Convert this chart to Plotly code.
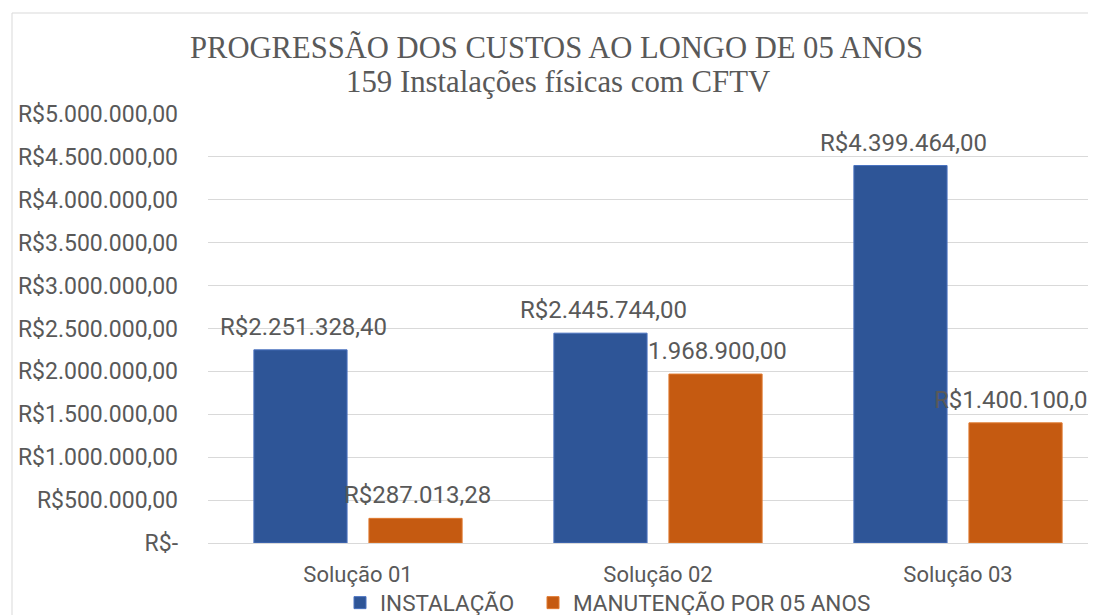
import plotly.graph_objects as go

categorias = ["Solução 01", "Solução 02", "Solução 03"]
instalacao = [2251328.40, 2445744.00, 4399464.00]
manutencao = [287013.28, 1968900.00, 1400100.00]
prefixo_manut = ["R$", "", "R$"]
prefixo_inst = ["R$", "R$", "R$"]
tick_vals = [0, 500000, 1000000, 1500000, 2000000, 2500000, 3000000, 3500000, 4000000, 4500000, 5000000]
tick_text = ["R$-", "R$500.000,00", "R$1.000.000,00", "R$1.500.000,00", "R$2.000.000,00",
             "R$2.500.000,00", "R$3.000.000,00", "R$3.500.000,00", "R$4.000.000,00",
             "R$4.500.000,00", "R$5.000.000,00"]
titulo = "PROGRESSÃO DOS CUSTOS AO LONGO DE 05 ANOS"
subtitulo = "159 Instalações físicas com CFTV"


def brl(v):
    s = f"{v:,.2f}"
    return s.replace(",", "X").replace(".", ",").replace("X", ".")


GRAY = "#595959"
FONT = "Roboto, Liberation Sans, sans-serif"
SERIF = "Liberation Serif, Times New Roman, serif"

# page has an 8px body margin; figure is offset accordingly
OFF = 8
W, H = 1096 - OFF, 650
L, R, T = 208 - OFF, 0, 114 - OFF
PLOT_BOTTOM = 543 - OFF
B = H - PLOT_BOTTOM
pw = W - L - R
ph = H - T - B

fig = go.Figure()
fig.add_trace(go.Bar(name="INSTALAÇÃO", x=categorias, y=instalacao, legend="legend",
                     marker=dict(color="#2E5597", line=dict(color="#4A72C0", width=1))))
fig.add_trace(go.Bar(name="MANUTENÇÃO POR 05 ANOS", x=categorias, y=manutencao, legend="legend2",
                     marker=dict(color="#C55A11", line=dict(color="#E07A30", width=1))))

for i, c in enumerate(categorias):
    fig.add_annotation(x=c, y=instalacao[i], text=prefixo_inst[i] + brl(instalacao[i]),
                       showarrow=False, yanchor="bottom", xshift=-55, yshift=7,
                       font=dict(family=FONT, size=24, color=GRAY))
    fig.add_annotation(x=c, y=manutencao[i], text=prefixo_manut[i] + brl(manutencao[i]),
                       showarrow=False, yanchor="bottom", xshift=59, yshift=7,
                       font=dict(family=FONT, size=24, color=GRAY))

# title lines
fig.add_annotation(xref="paper", yref="paper", x=(556 - OFF - L) / pw, y=1 + (T - (48 - OFF)) / ph,
                   text=titulo, showarrow=False, xanchor="center", yanchor="middle",
                   font=dict(family=SERIF, size=30.6, color=GRAY))
fig.add_annotation(xref="paper", yref="paper", x=(558 - OFF - L) / pw, y=1 + (T - (82 - OFF)) / ph,
                   text=subtitulo, showarrow=False, xanchor="center", yanchor="middle",
                   font=dict(family=SERIF, size=30.8, color=GRAY))

fig.add_shape(type="rect", xref="paper", yref="paper",
              x0=(12 - OFF - L) / pw, x1=1.2, y0=-0.5, y1=1 + (T - (13 - OFF)) / ph,
              line=dict(color="#D9D9D9", width=1), fillcolor="rgba(0,0,0,0)", layer="below")

leg_common = dict(orientation="h", xanchor="left", y=-(603 - 543) / ph, yanchor="middle",
                  font=dict(family=FONT, size=22.5, color=GRAY), itemwidth=30,
                  bgcolor="rgba(0,0,0,0)")

fig.update_layout(
    width=W, height=H,
    margin=dict(l=L, r=R, t=T, b=B),
    paper_bgcolor="white", plot_bgcolor="white",
    barmode="group", bargap=0.233, bargroupgap=0.19,
    legend=dict(x=(340 - OFF - L) / pw, **leg_common),
    legend2=dict(x=(533 - OFF - L) / pw, **leg_common),
    showlegend=True,
)
fig.update_xaxes(range=[-0.5, 2.5 - 12 / 300], showline=True, linecolor="#D9D9D9",
                 ticks="", tickfont=dict(family=FONT, size=22, color=GRAY), ticklabelstandoff=12)
fig.update_yaxes(range=[0, 5000000], tickvals=tick_vals, ticktext=tick_text,
                 gridcolor="#D9D9D9", gridwidth=1, zeroline=False, ticks="",
                 tickfont=dict(family=FONT, size=23, color=GRAY), ticklabelstandoff=29)

fig.write_html("out.html")
